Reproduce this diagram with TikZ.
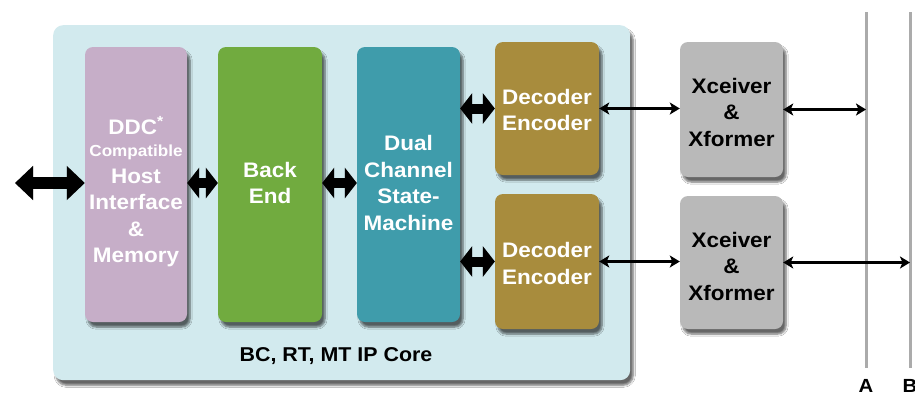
\documentclass[tikz,border=0pt]{standalone}
\usepackage{fontspec}
\setmainfont[FakeStretch=1.07]{Liberation Sans}
\usetikzlibrary{arrows.meta,shadows,shadows.blur}
\definecolor{corebg}{HTML}{D2EAEE}
\definecolor{ddccol}{HTML}{C6AEC8}
\definecolor{backcol}{HTML}{71AB3F}
\definecolor{dualcol}{HTML}{3F9CAB}
\definecolor{deccol}{HTML}{A88C3D}
\definecolor{xcvcol}{HTML}{B9B9B9}
\definecolor{buscol}{HTML}{ABABAB}
\tikzset{
  blk/.style={rounded corners=8pt, inner sep=0pt, blur shadow={shadow xshift=3pt, shadow yshift=-5pt, shadow opacity=60, shadow blur steps=6}},
  wtxt/.style={text=white, font=\bfseries\fontsize{21}{26.5}\selectfont, align=center, inner sep=0pt},
  ktxt/.style={text=black, font=\bfseries\fontsize{21}{26.5}\selectfont, align=center, inner sep=0pt},
  fatarrow/.style={line width=#1, {Triangle[length=12pt,width=30pt]}-{Triangle[length=12pt,width=30pt]}},
  thinarrow/.style={line width=2.6pt, {Stealth[length=10pt,width=12pt,inset=2.5pt]}-{Stealth[length=10pt,width=12pt,inset=2.5pt]}},
  bus/.style={draw=buscol, line width=3pt},
}
\begin{document}
\begin{tikzpicture}[x=1pt,y=-1pt]
\useasboundingbox (0,0) rectangle (915,400);
\fill[white] (0,0) rectangle (915,400);
% core container
\node[blk, fill=corebg, minimum width=577pt, minimum height=355pt, anchor=north west, rounded corners=10pt] (core) at (53,25) {};
\node[ktxt, font=\bfseries\fontsize{20}{24}\selectfont] (corelbl) at (336,356) {BC, RT, MT IP Core};
% blocks
\node[blk, fill=ddccol, minimum width=102pt, minimum height=275pt] (ddc) at (136,184.5) {};
\node[wtxt] (ddctxt) at (136,192) {DDC\textsuperscript{*}\\[-4pt]{\fontsize{16}{19}\selectfont Compatible}\\Host\\Interface\\\&\\Memory};
\node[blk, fill=backcol, minimum width=104pt, minimum height=275pt] (back) at (270,184.5) {};
\node[wtxt] (backtxt) at (270,183) {Back\\End};
\node[blk, fill=dualcol, minimum width=103pt, minimum height=275pt] (dual) at (408.5,184.5) {};
\node[wtxt] (dualtxt) at (408.5,183) {Dual\\Channel\\State-\\Machine};
\node[blk, fill=deccol, minimum width=104pt, minimum height=133pt] (dec1) at (547,108.5) {};
\node[wtxt] (dec1txt) at (547,110) {Decoder\\Encoder};
\node[blk, fill=deccol, minimum width=104pt, minimum height=135pt] (dec2) at (547,261.5) {};
\node[wtxt] (dec2txt) at (547,263.5) {Decoder\\Encoder};
\node[blk, fill=xcvcol, minimum width=103pt, minimum height=135pt] (xc1) at (731.5,109.5) {};
\node[ktxt] (xc1txt) at (731.5,112) {Xceiver\\\&\\Xformer};
\node[blk, fill=xcvcol, minimum width=103pt, minimum height=133pt] (xc2) at (731.5,262.5) {};
\node[ktxt] (xc2txt) at (731.5,266) {Xceiver\\\&\\Xformer};
% buses
\coordinate (Atop) at (866,12);
\coordinate (Abot) at (866,368);
\coordinate (Btop) at (910,12);
\coordinate (Bbot) at (910,368);
\draw[bus] (Atop) -- (Abot);
\draw[bus] (Btop) -- (Bbot);
\node[ktxt, font=\bfseries\fontsize{19}{22}\selectfont] (Albl) at (866,386) {A};
\node[ktxt, font=\bfseries\fontsize{19}{22}\selectfont] (Blbl) at (910,386) {B};
% host side
\coordinate (host) at (15,183);
% fat arrows (shadow first)
\begin{scope}[shift={(2,3)}, draw=black!70, opacity=0.45]
\draw[fatarrow=12pt, {Triangle[length=18pt,width=33pt]}-{Triangle[length=18pt,width=33pt]}] (host) -- (host -| ddc.west);
\draw[fatarrow=10pt] (host -| ddc.east) -- (host -| back.west);
\draw[fatarrow=10pt] (host -| back.east) -- (host -| dual.west);
\draw[fatarrow=10pt] (dec1.west -| dual.east) -- (dec1.west);
\draw[fatarrow=10pt] (dec2.west -| dual.east) -- (dec2.west);
\end{scope}
\draw[fatarrow=12pt, {Triangle[length=18pt,width=33pt]}-{Triangle[length=18pt,width=33pt]}] (host) -- (host -| ddc.west);
\draw[fatarrow=10pt] (host -| ddc.east) -- (host -| back.west);
\draw[fatarrow=10pt] (host -| back.east) -- (host -| dual.west);
\draw[fatarrow=10pt] (dec1.west -| dual.east) -- (dec1.west);
\draw[fatarrow=10pt] (dec2.west -| dual.east) -- (dec2.west);
% thin arrows
\draw[thinarrow] (dec1.east) -- (dec1.east -| xc1.west);
\draw[thinarrow] (xc1.east) -- (xc1.east -| Atop);
\draw[thinarrow] (dec2.east) -- (dec2.east -| xc2.west);
\draw[thinarrow] (xc2.east) -- (xc2.east -| Btop);
\end{tikzpicture}
\end{document}
